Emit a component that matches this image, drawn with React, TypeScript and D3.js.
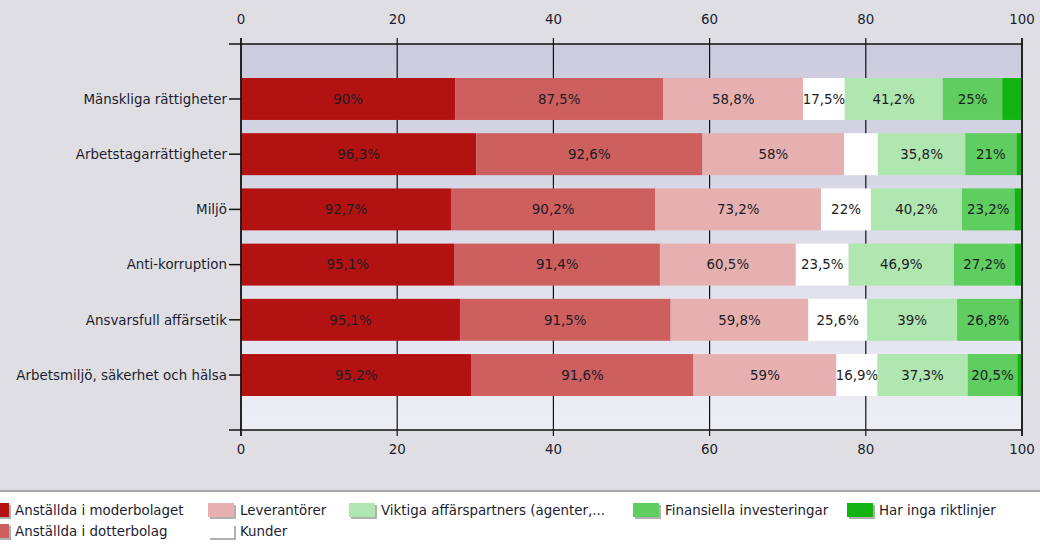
import React from 'react';
import * as d3 from 'd3';

const categories = [
  'Mänskliga rättigheter',
  'Arbetstagarrättigheter',
  'Miljö',
  'Anti-korruption',
  'Ansvarsfull affärsetik',
  'Arbetsmiljö, säkerhet och hälsa',
];

const seriesNames = [
  'Anställda i moderbolaget',
  'Anställda i dotterbolag',
  'Leverantörer',
  'Kunder',
  'Viktiga affärspartners (agenter,...',
  'Finansiella investeringar',
  'Har inga riktlinjer',
];

const anstalldaModer = [90, 96.3, 92.7, 95.1, 95.1, 95.2];
const anstalldaDotter = [87.5, 92.6, 90.2, 91.4, 91.5, 91.6];
const leverantorer = [58.8, 58, 73.2, 60.5, 59.8, 59];
const kunder = [17.5, 13.8, 22, 23.5, 25.6, 16.9];
const viktiga = [41.2, 35.8, 40.2, 46.9, 39, 37.3];
const finansiella = [25, 21, 23.2, 27.2, 26.8, 20.5];
const harInga = [8.3, 2.2, 3.3, 3.1, 1.4, 1.9];

const xTicks = [0, 20, 40, 60, 80, 100];

const colors = ['#b31212', '#cd5f5f', '#e6b0b0', '#ffffff', '#b0e6b0', '#5fcd5f', '#12b312'];

const FONT = '"DejaVu Sans", Verdana, sans-serif';
const FS = 13.4;

export default function App() {
  const W = 1040, H = 548;
  const left = 241, right = 1022, top = 44, bottom = 430;

  const seriesValues = [anstalldaModer, anstalldaDotter, leverantorer, kunder, viktiga, finansiella, harInga];
  const rows = categories.map((c, i) => {
    const r: any = { cat: c };
    seriesNames.forEach((s, j) => (r[s] = seriesValues[j][i]));
    return r;
  });
  const stacked = d3.stack<any>().keys(seriesNames).offset(d3.stackOffsetExpand)(rows);

  const x = d3.scaleLinear().domain([0, 100]).range([left, right]);
  const y = d3.scaleBand<string>().domain(categories).range([top, bottom]).paddingInner(0.24).paddingOuter(0.616);

  const fmt = (v: number) => String(v).replace('.', ',') + '%';

  const legendPos = [
    { cx: -17, row: 0 },
    { cx: -17, row: 1 },
    { cx: 208, row: 0 },
    { cx: 208, row: 1 },
    { cx: 349, row: 0 },
    { cx: 633, row: 0 },
    { cx: 847, row: 0 },
  ];
  const legendY = [503, 524];

  return (
    <svg width={W} height={H} style={{ position: 'absolute', left: 0, top: 0, display: 'block' }}
      fontFamily={FONT}>
      <defs>
        <linearGradient id="plotbg" x1="0" y1="0" x2="0" y2="1">
          <stop offset="0" stopColor="#cbcbdd" />
          <stop offset="1" stopColor="#eeeef6" />
        </linearGradient>
      </defs>
      <rect x={0} y={0} width={W} height={H} fill="#dfdfe3" />
      <rect x={left} y={top} width={right - left} height={bottom - top} fill="url(#plotbg)" />

      {/* vertical grid lines */}
      {xTicks.map(t => (
        <line key={'g' + t} x1={x(t)} x2={x(t)} y1={top - 6} y2={bottom + 6} stroke="#111" strokeWidth={1.2} />
      ))}

      {/* bars */}
      {stacked.map((s, si) => (
        <g key={s.key}>
          {s.map((d, i) => {
            const x0 = x(d[0] * 100), x1 = x(d[1] * 100);
            const yy = y(categories[i])!;
            const w = x1 - x0;
            const v = seriesValues[si][i];
            return (
              <g key={i}>
                <rect x={x0} y={yy} width={w} height={y.bandwidth()} fill={colors[si]} />
                {w >= 36 && (
                  <text x={(x0 + x1) / 2} y={yy + y.bandwidth() / 2} dy="0.36em" textAnchor="middle"
                    fontSize={FS} fill="#1c1c24">{fmt(v)}</text>
                )}
              </g>
            );
          })}
        </g>
      ))}

      {/* axes lines */}
      <line x1={229} x2={right} y1={top} y2={top} stroke="#111" strokeWidth={1.5} />
      <line x1={229} x2={right} y1={bottom} y2={bottom} stroke="#111" strokeWidth={1.5} />
      <line x1={left} x2={left} y1={top - 6} y2={bottom + 6} stroke="#111" strokeWidth={1.5} />
      <line x1={right} x2={right} y1={top - 6} y2={bottom + 6} stroke="#111" strokeWidth={1.5} />

      {/* tick labels */}
      {xTicks.map(t => (
        <g key={'t' + t}>
          <text x={x(t)} y={24} textAnchor="middle" fontSize={FS} fill="#1c1c30">{t}</text>
          <text x={x(t)} y={454} textAnchor="middle" fontSize={FS} fill="#1c1c30">{t}</text>
        </g>
      ))}

      {/* category labels */}
      {categories.map(c => {
        const cy = y(c)! + y.bandwidth() / 2;
        return (
          <g key={c}>
            <line x1={229} x2={left} y1={cy} y2={cy} stroke="#111" strokeWidth={1.5} />
            <text x={227} y={cy} dy="0.36em" textAnchor="end" fontSize={FS} fill="#1c1c30">{c}</text>
          </g>
        );
      })}

      {/* legend */}
      <rect x={0} y={491} width={W} height={H - 491} fill="#ffffff" />
      <line x1={0} x2={W} y1={491} y2={491} stroke="#a8a8a8" strokeWidth={2} />
      {seriesNames.map((s, i) => {
        const p = legendPos[i];
        const ly = legendY[p.row];
        return (
          <g key={s}>
            <rect x={p.cx + 2} y={ly + 2} width={26} height={14} fill="#b0b0b0" />
            <rect x={p.cx} y={ly} width={26} height={14} fill={colors[i]} />
            <text x={p.cx + 32} y={ly + 7} dy="0.36em" fontSize={FS} fill="#1c1c30">{s}</text>
          </g>
        );
      })}
    </svg>
  );
}
